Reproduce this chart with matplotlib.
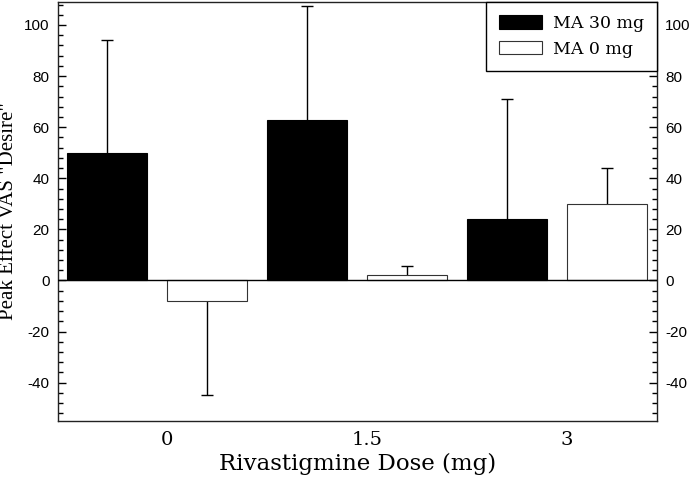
import matplotlib
matplotlib.use("Agg")
import matplotlib.pyplot as plt
from matplotlib.ticker import MultipleLocator
import numpy as np

plt.rcParams['axes.unicode_minus'] = False

# Data
doses = ['0', '1.5', '3']
ma30_mean = [50, 63, 24]
ma30_err = [44, 44.5, 47]
ma0_mean = [-8, 2, 30]
ma0_err = [37, 3.6, 14]

fig = plt.figure(figsize=(6.98, 4.82), dpi=100)
ax = fig.add_axes([58/698, 61/482, 599/698, 419/482])

x = np.arange(len(doses))
w = 0.4

ax.bar(x - 0.25, ma30_mean, w, color='black', edgecolor='black', linewidth=0.8,
       label='MA 30 mg', zorder=2)
ax.bar(x + 0.25, ma0_mean, w, color='white', edgecolor='#333333', linewidth=0.8,
       label='MA 0 mg', zorder=2)

# error bars point away from zero only, cap at the tip
for xs, means, errs in [(x - 0.25, ma30_mean, ma30_err), (x + 0.25, ma0_mean, ma0_err)]:
    tips = [m + e if m >= 0 else m - e for m, e in zip(means, errs)]
    ax.vlines(xs, means, tips, color='black', linewidth=1, zorder=1)
    ax.plot(xs, tips, ls='none', marker='_', markersize=8, markeredgewidth=1,
            color='black', zorder=1)

ax.axhline(0, color='black', linewidth=1, zorder=3)

ax.set_xlim(-0.495, 2.5)
ax.set_ylim(-55, 109)

ax.set_xticks(x + 0.05)
ax.set_xticklabels(doses, fontfamily='DejaVu Serif', fontsize=14)
ax.tick_params(axis='x', length=0, pad=7)

ax.yaxis.set_major_locator(MultipleLocator(20))
ax.yaxis.set_minor_locator(MultipleLocator(4))
ax.tick_params(axis='y', which='both', direction='in', left=True, right=True,
               labelleft=True, labelright=True, labelsize=11)
ax.tick_params(axis='y', which='major', length=6, width=1, pad=6)
ax.tick_params(axis='y', which='minor', length=3.5, width=1)
for lab in ax.get_yticklabels():
    lab.set_fontfamily('Liberation Sans')

for s in ax.spines.values():
    s.set_linewidth(1)
    s.set_color('#222222')

ax.set_xlabel('Rivastigmine Dose (mg)', fontfamily='DejaVu Serif', fontsize=16.5, labelpad=3)
ax.set_ylabel('Peak Effect VAS "Desire"', fontfamily='Liberation Serif', fontsize=15)
ax.yaxis.set_label_coords(-0.066, 0.5)

leg = ax.legend(loc='upper right', bbox_to_anchor=(1, 1), borderaxespad=0,
                fancybox=False, framealpha=1, edgecolor='black',
                prop=dict(family='DejaVu Serif', size=12.5),
                handlelength=2.5, handleheight=0.8, borderpad=0.75, labelspacing=0.5,
                handletextpad=0.6)
leg.get_frame().set_linewidth(1)

plt.savefig('out.png', dpi=100)
